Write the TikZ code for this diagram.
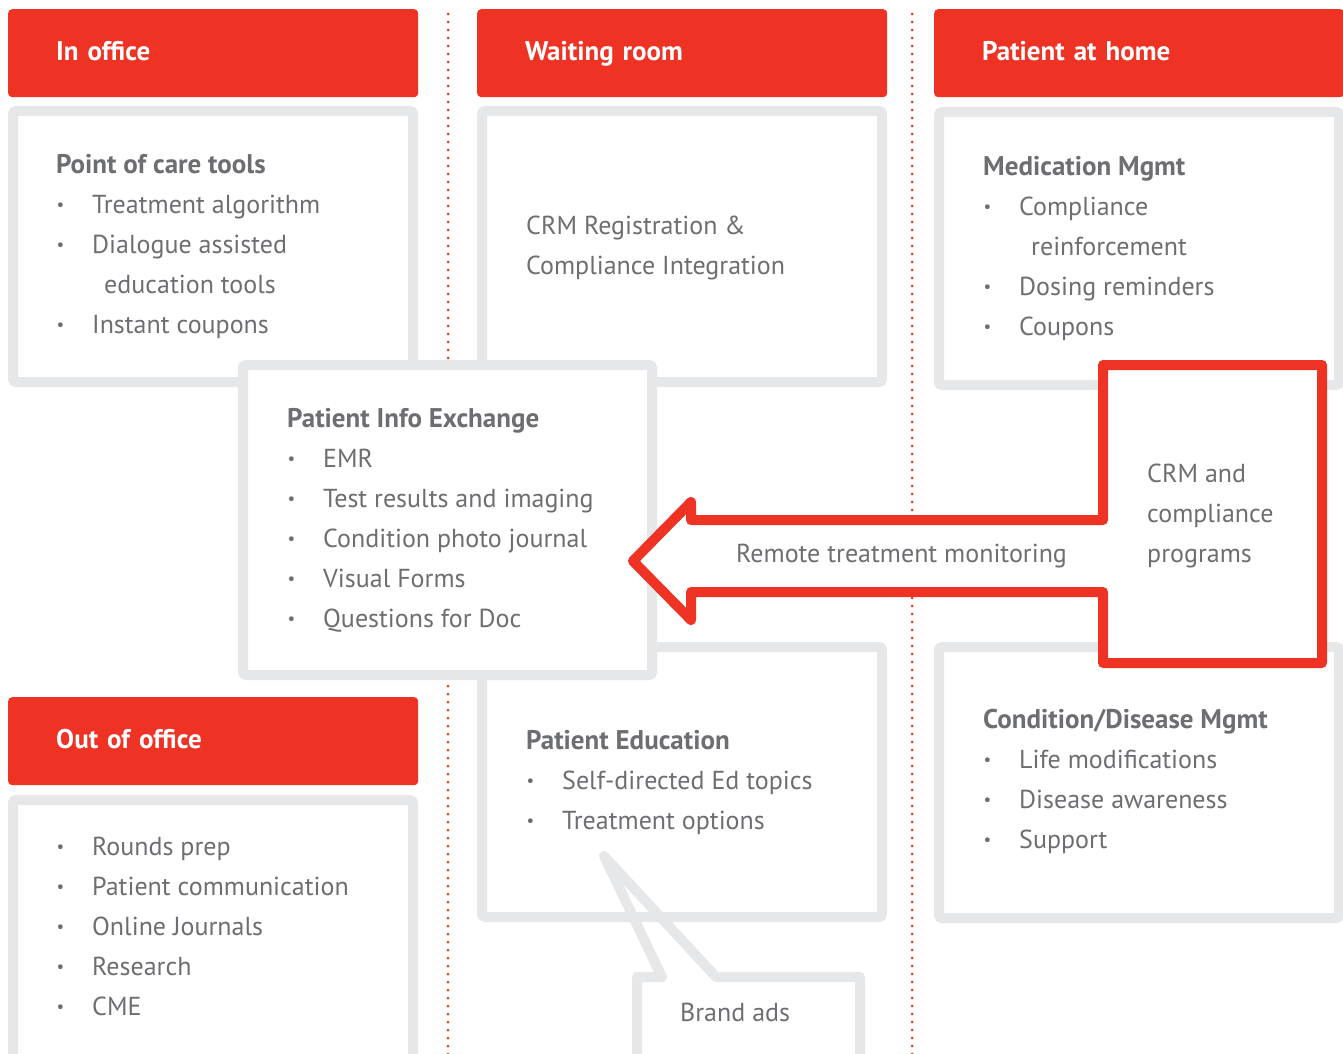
\documentclass[tikz,border=0pt]{standalone}
\usepackage{fontspec}
\setmainfont{PT Sans}
\definecolor{hdred}{HTML}{EE3224}
\definecolor{panelgray}{HTML}{E6E7E8}
\definecolor{txtgray}{HTML}{6D6E71}
\newcommand{\bul}{\makebox[36pt][l]{\hspace{0.5pt}\raisebox{2.5pt}{\fontsize{17}{17}\selectfont\textbullet}}}
\newcommand{\hd}[1]{{\bfseries\fontsize{27}{40}\selectfont #1}}
\begin{document}
\begin{tikzpicture}[x=1pt,y=-1pt]
        \tikzstyle{header}=[anchor=north west,fill=hdred,rounded corners=4pt,minimum width=410pt,minimum height=88pt,text width=314pt,inner xsep=48pt,text height=20pt,text depth=6pt,align=left,text=white,font=\bfseries\fontsize{27}{27}\selectfont]
        \tikzstyle{panel}=[anchor=north west,draw=panelgray,line width=10pt,fill=white,rounded corners=3pt,inner sep=0pt,outer sep=5pt]
        \tikzstyle{txt}=[anchor=base west,align=left,inner sep=0pt,text=txtgray,font=\fontsize{26}{40}\selectfont]
        \tikzstyle{dotline}=[draw=hdred,line width=3pt,line cap=round,dash pattern=on 0pt off 8pt]
        \tikzstyle{redline}=[draw=hdred,line width=10pt,line join=round,fill=white]
        \useasboundingbox (0,0) rectangle (1343,1054);
        % dotted separators
        \draw[dotline] (448,14) -- (448,1054);
        \draw[dotline] (912,14) -- (912,1054);
        % headers
        \node[header] (inoff) at (8,9) {In office};
        \node[header] (wroom) at (477,9) {Waiting room};
        \node[header] (home) at (934,9) {Patient at home};
        \node[header] (outoff) at (8,697) {Out of office};
        % panels
        \node[panel,minimum width=400pt,minimum height=271pt] (pcare) at (8,106) {};
        \node[panel,minimum width=400pt,minimum height=271pt] (crm) at (477,106) {};
        \node[panel,minimum width=400pt,minimum height=273pt] (medic) at (934,107) {};
        \node[panel,minimum width=400pt,minimum height=270pt] (pedu) at (477,642) {};
        \node[panel,minimum width=400pt,minimum height=271pt] (cond) at (934,642) {};
        \node[panel,minimum width=400pt,minimum height=265pt] (outlist) at (8,795) {};
        \node[panel,minimum width=409pt,minimum height=310pt] (pinfo) at (238,360) {};
        % brand ads callout
        \coordinate (tip) at (604,856);
        \draw[draw=panelgray,line width=10pt,line join=round] (662,977) -- (tip) -- (716,977) -- (860,977) -- (860,1070) -- (637,1070) -- (637,977) -- cycle;
        % remote monitoring arrow and crm frame
        \draw[redline] (1103,365) -- (1322,365) -- (1322,663) -- (1103,663) -- (1103,592) -- (691,592) -- (691,620) -- (633,561) -- (691,502) -- (691,520) -- (1103,520) -- cycle;
        % texts (placed at the baseline of their last line)
        \node[txt] (tcare) at (56,333) {\hd{Point of care tools}\\\bul Treatment algorithm\\\bul Dialogue assisted\\\hspace*{48pt}education tools\\\bul Instant coupons};
        \node[txt] (tcrm) at (526,274) {CRM Registration \&\\Compliance Integration};
        \node[txt] (tmedic) at (983,335) {\hd{Medication Mgmt}\\\bul Compliance\\\hspace*{48pt}reinforcement\\\bul Dosing reminders\\\bul Coupons};
        \node[txt] (tinfo) at (287,627) {\hd{Patient Info Exchange}\\\bul EMR\\\bul Test results and imaging\\\bul Condition photo journal\\\bul Visual Forms\\\bul Questions for Doc};
        \node[txt] (tremote) at (736,562) {Remote treatment monitoring};
        \node[txt] (tprog) at (1147,562) {CRM and\\compliance\\programs};
        \node[txt] (tedu) at (526,829) {\hd{Patient Education}\\\bul Self-directed Ed topics\\\bul Treatment options};
        \node[txt] (tcond) at (983,848) {\hd{Condition/Disease Mgmt}\\\bul Life modifications\\\bul Disease awareness\\\bul Support};
        \node[txt] (tout) at (56,1015) {\bul Rounds prep\\\bul Patient communication\\\bul Online Journals\\\bul Research\\\bul CME};
        \node[txt] (tbrand) at (680,1021) {Brand ads};
\end{tikzpicture}
\end{document}
